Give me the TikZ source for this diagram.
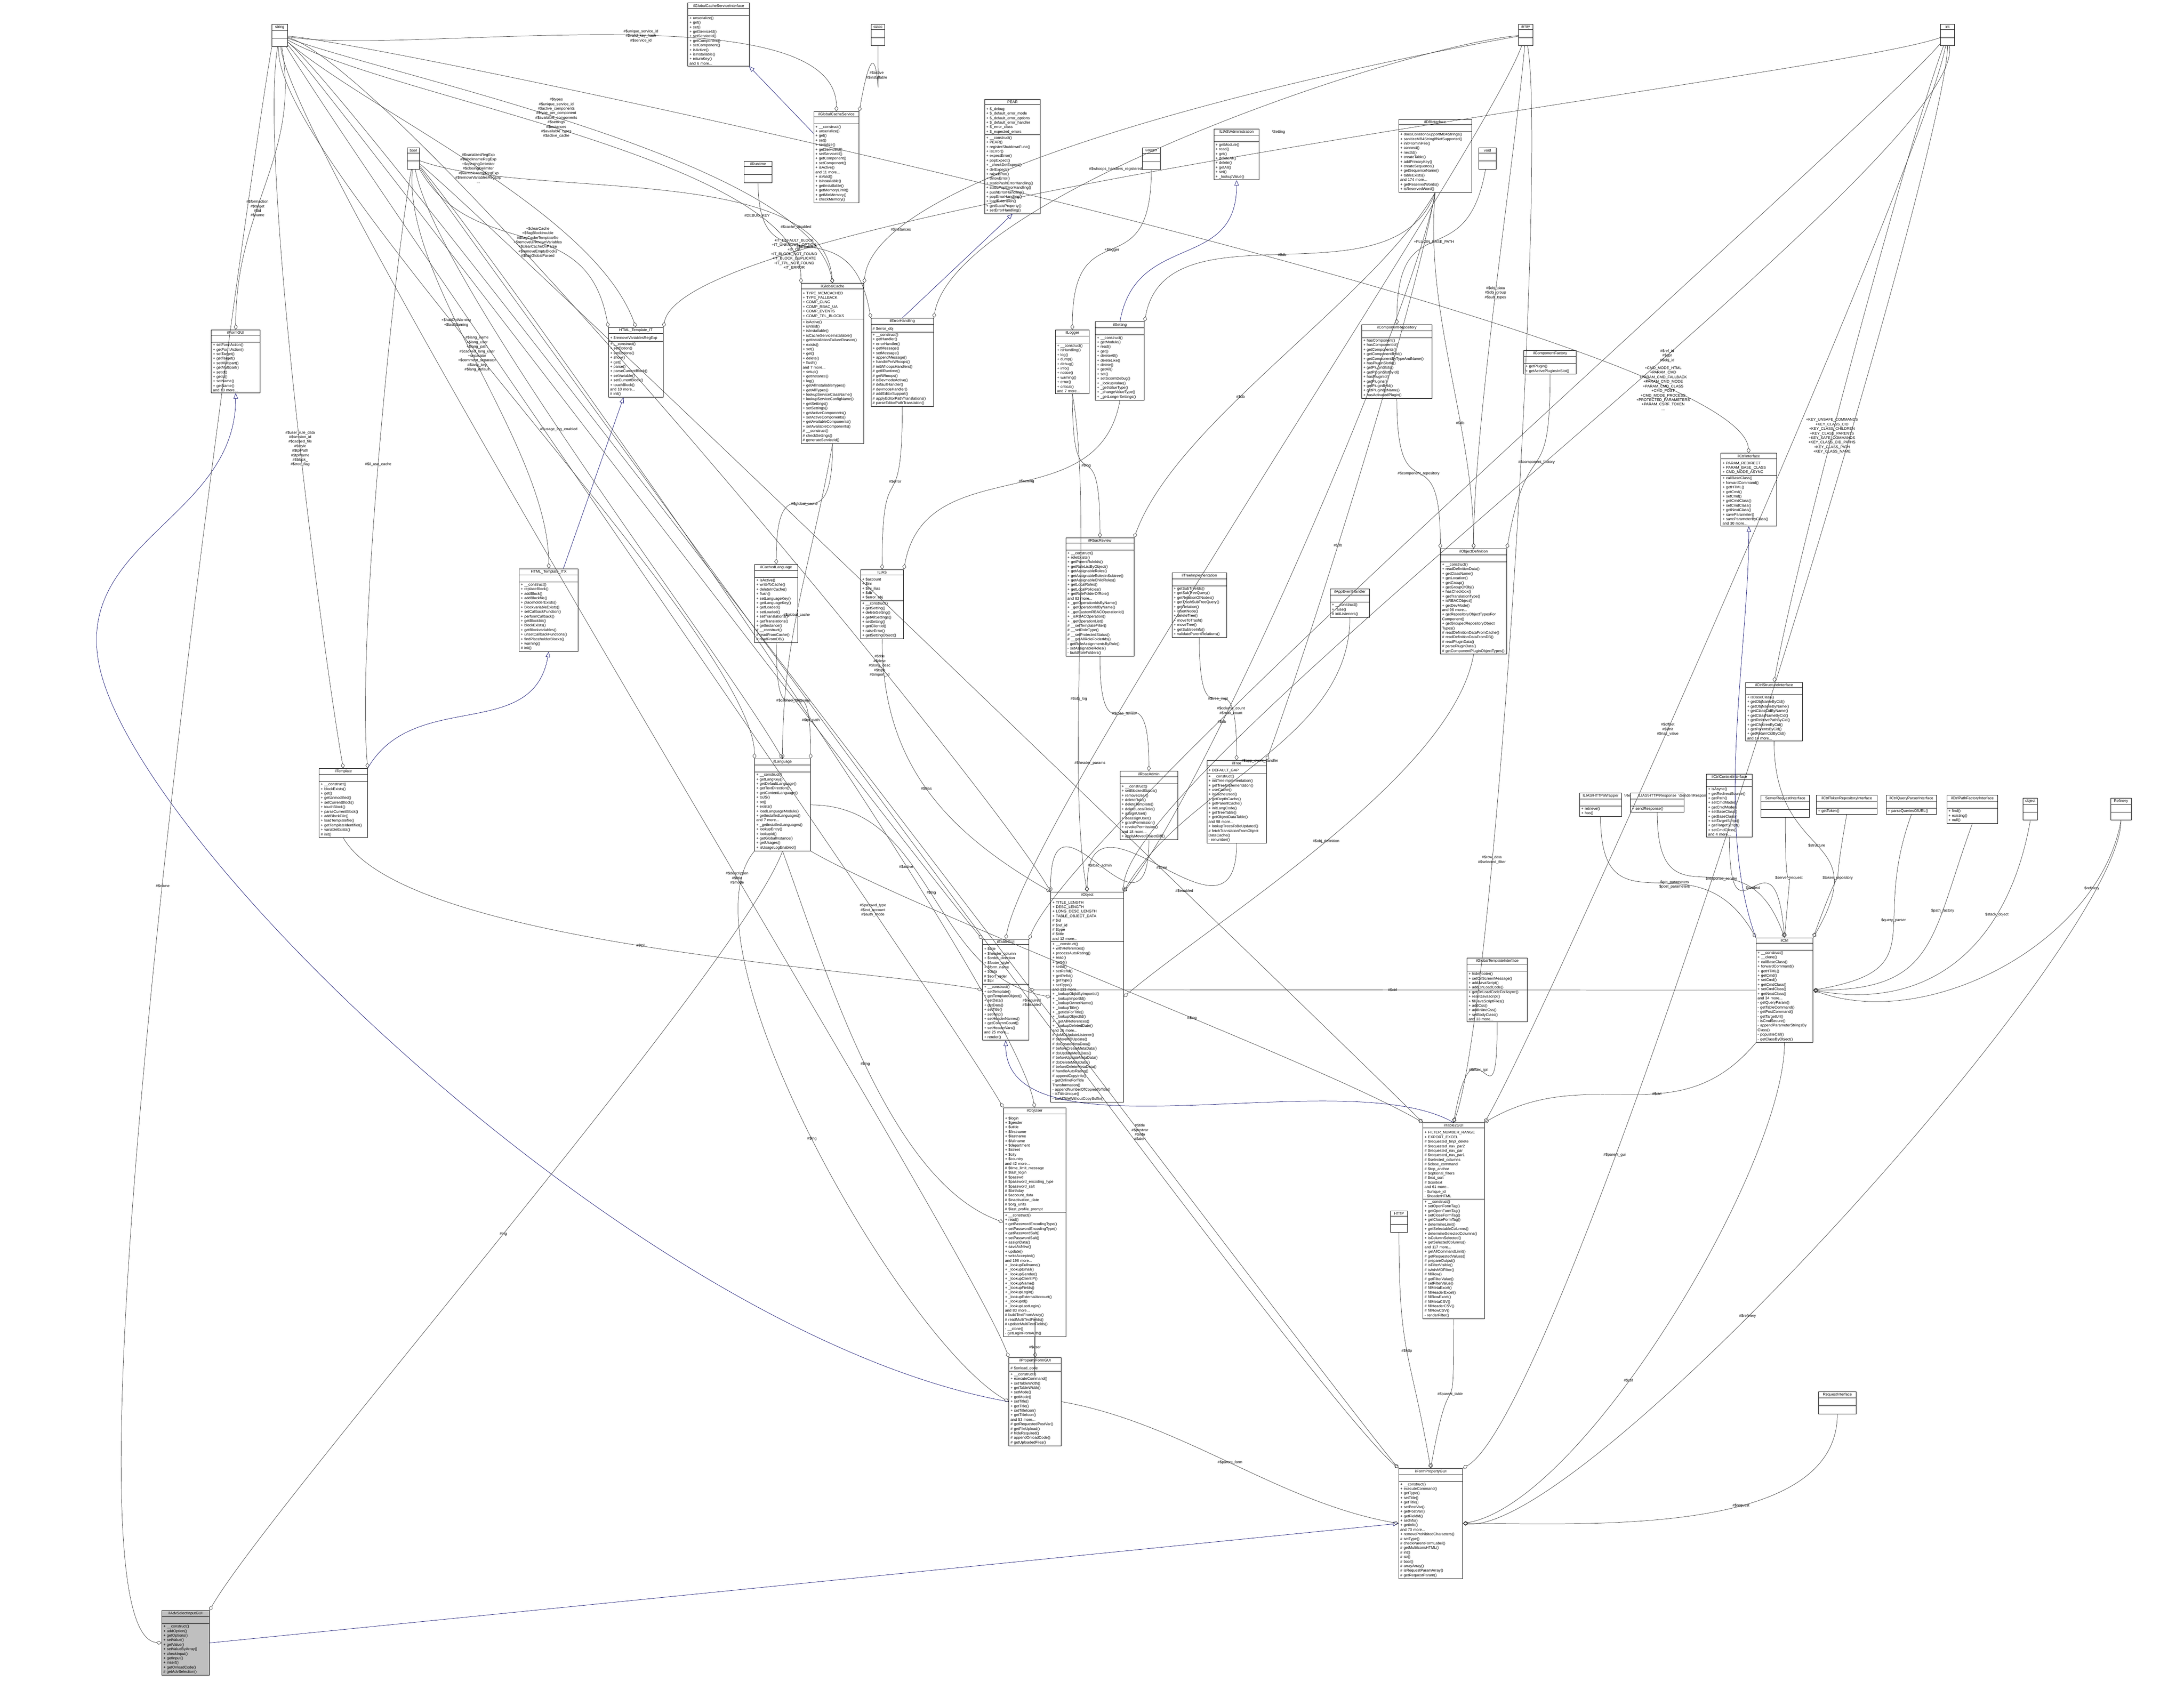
\documentclass[tikz,border=0pt]{standalone}
\usepackage{fontspec}
\setmainfont{Liberation Sans}
\usetikzlibrary{shapes.multipart, arrows.meta}

% one class box of the collaboration graph
\newcommand{\classbox}[6][]{%
  \node[classbox, #1, text width=\dimexpr#3cm-3pt\relax] (#2) at (#4)
    {#5\nodepart{second}\rule{0pt}{4pt}#6};}
\newcommand{\emptybox}[4]{%
  \node[classbox, text width=\dimexpr#2cm-3pt\relax] (#1) at (#3)
    {\centerline{#4}\nodepart{second}\rule{0pt}{5pt}\nodepart{third}\rule{0pt}{5pt}};}
% member edge: style, from, to, out angle, in angle, label pos, label
\newcommand{\link}[7]{%
  \draw[#1] (#2) .. controls +(#4:4) and +(#5:4) .. node[lbl, pos=#6]{#7} (#3);}

\tikzset{
  classbox/.style={rectangle split, rectangle split parts=3, draw, anchor=north west,
    align=left, inner xsep=1.5pt, inner ysep=1pt, line width=0.4pt, fill=white,
    font=\fontsize{3.5}{4.2}\selectfont},
  uses/.style={draw=black!80, line width=0.3pt, -{Diamond[open, length=5pt, width=3.5pt]}},
  isa/.style={draw=blue!40!black, line width=0.3pt, -{Triangle[open, length=5pt, width=4pt]}},
  lbl/.style={font=\fontsize{3.5}{4.2}\selectfont, align=center, inner sep=0.5pt}
}

\begin{document}
\begin{tikzpicture}
\useasboundingbox (0,0) rectangle (70.95,-54.64);

% plain types
\emptybox{string}{0.5}{8.83,-0.78}{string}
\emptybox{static}{0.45}{28.29,-0.78}{static}
\emptybox{array}{0.47}{49.32,-0.78}{array}
\emptybox{int}{0.46}{63.03,-0.78}{int}
\emptybox{bool}{0.4}{13.22,-4.79}{bool}
\emptybox{runtime}{0.9}{24.17,-5.23}{ilRuntime}
\emptybox{psrlogger}{0.59}{37.10,-4.79}{Logger}
\emptybox{void}{0.57}{48.03,-4.79}{void}
\emptybox{http}{0.56}{45.16,-39.34}{HTTP}
\emptybox{serverreq}{1.58}{57.20,-25.83}{ServerRequestInterface}
\emptybox{object}{0.46}{65.72,-25.92}{object}
\emptybox{refinery}{0.67}{68.56,-25.92}{Refinery}
\emptybox{reqif}{1.22}{59.07,-45.21}{RequestInterface}

\classbox{gcsi}{2.0}{22.34,-0.09}{\centerline{ilGlobalCacheServiceInterface}}{\nodepart{third}+ unserialize()\\+ get()\\+ set()\\+ getServiceId()\\+ setServiceId()\\+ getComponent()\\+ setComponent()\\+ isActive()\\+ isInstallable()\\+ returnKey()\\and 6 more...}
\classbox{gcs}{1.47}{26.43,-3.62}{\centerline{ilGlobalCacheService}}{\nodepart{third}+ \_\_construct()\\+ unserialize()\\+ get()\\+ set()\\+ serialize()\\+ getServiceId()\\+ setServiceId()\\+ getComponent()\\+ setComponent()\\+ isActive()\\and 11 more...\\+ isValid()\\+ isInstallable()\\+ getInstallable()\\+ getMemoryLimit()\\+ getMinMemory()\\+ checkMemory()}
\classbox{pear}{1.81}{31.98,-3.22}{\centerline{PEAR}}{+ \$\_debug\\+ \$\_default\_error\_mode\\+ \$\_default\_error\_options\\+ \$\_default\_error\_handler\\+ \$\_error\_class\\+ \$\_expected\_errors\nodepart{third}+ \_\_construct()\\+ PEAR()\\+ registerShutdownFunc()\\+ isError()\\+ expectError()\\+ popExpect()\\+ \_checkDelExpect()\\+ delExpect()\\+ raiseError()\\+ throwError()\\+ staticPushErrorHandling()\\+ staticPopErrorHandling()\\+ pushErrorHandling()\\+ popErrorHandling()\\+ loadExtension()\\+ getStaticProperty()\\+ setErrorHandling()}
\classbox{adminsetting}{1.47}{39.43,-4.18}{\centerline{ILIAS\textbackslash Administration}\centerline{\textbackslash Setting}}{\nodepart{third}+ getModule()\\+ read()\\+ get()\\+ deleteAll()\\+ delete()\\+ getAll()\\+ set()\\+ \_lookupValue()}
\classbox{dbi}{2.37}{45.43,-3.87}{\centerline{ilDBInterface}}{\nodepart{third}+ doesCollationSupportMB4Strings()\\+ sanitizeMB4StringIfNotSupported()\\+ initFromIniFile()\\+ connect()\\+ nextId()\\+ createTable()\\+ addPrimaryKey()\\+ createSequence()\\+ getSequenceName()\\+ tableExists()\\and 174 more...\\+ getReservedWords()\\+ isReservedWord()}

\classbox{formgui}{1.58}{6.86,-10.71}{\centerline{ilFormGUI}}{\nodepart{third}+ setFormAction()\\+ getFormAction()\\+ setTarget()\\+ getTarget()\\+ setMultipart()\\+ getMultipart()\\+ setId()\\+ getId()\\+ setName()\\+ getName()\\and 10 more...}
\classbox{htmlit}{1.78}{19.76,-10.63}{\centerline{HTML\_Template\_IT}}{+ \$removeVariablesRegExp\nodepart{third}+ \_\_construct()\\+ setOption()\\+ setOptions()\\+ show()\\+ get()\\+ parse()\\+ parseCurrentBlock()\\+ setVariable()\\+ setCurrentBlock()\\+ touchBlock()\\and 10 more...\\\# init()}
\classbox{gcache}{2.04}{26.02,-9.20}{\centerline{ilGlobalCache}}{+ TYPE\_MEMCACHED\\+ TYPE\_FALLBACK\\+ COMP\_CLNG\\+ COMP\_RBAC\_UA\\+ COMP\_EVENTS\\+ COMP\_TPL\_BLOCKS\nodepart{third}+ isActive()\\+ isValid()\\+ isInstallable()\\+ isCacheServiceInstallable()\\+ getInstallationFailureReason()\\+ exists()\\+ set()\\+ get()\\+ delete()\\+ flush()\\and 7 more...\\+ setup()\\+ getInstance()\\+ log()\\+ getAllInstallableTypes()\\+ getAllTypes()\\+ lookupServiceClassName()\\+ lookupServiceConfigName()\\+ getSettings()\\+ setSettings()\\+ getActiveComponents()\\+ setActiveComponents()\\+ getAvailableComponents()\\+ setAvailableComponents()\\\# \_\_construct()\\\# checkSettings()\\\# generateServiceId()}
\classbox{errh}{2.03}{28.29,-10.33}{\centerline{ilErrorHandling}}{\# \$error\_obj\nodepart{third}+ \_\_construct()\\+ getHandler()\\+ errorHandler()\\+ getMessage()\\+ setMessage()\\+ appendMessage()\\+ handlePreWhoops()\\\# initWhoopsHandlers()\\\# getIlRuntime()\\\# getWhoops()\\\# isDevmodeActive()\\\# defaultHandler()\\\# devmodeHandler()\\\# addEditorSupport()\\\# applyEditorPathTranslations()\\\# parseEditorPathTranslation()}
\classbox{logger}{1.10}{34.28,-10.71}{\centerline{ilLogger}}{\nodepart{third}+ \_\_construct()\\+ isHandling()\\+ log()\\+ dump()\\+ debug()\\+ info()\\+ notice()\\+ warning()\\+ error()\\+ critical()\\and 7 more...}
\classbox{setting}{1.59}{35.58,-10.45}{\centerline{ilSetting}}{\nodepart{third}+ \_\_construct()\\+ getModule()\\+ read()\\+ get()\\+ deleteAll()\\+ deleteLike()\\+ delete()\\+ getAll()\\+ set()\\+ setScormDebug()\\+ \_lookupValue()\\+ \_getValueType()\\+ \_changeValueType()\\+ \_getLongerSettings()}
\classbox{comprepo}{2.28}{44.23,-10.54}{\centerline{ilComponentRepository}}{\nodepart{third}+ hasComponent()\\+ hasComponentId()\\+ getComponents()\\+ getComponentById()\\+ getComponentByTypeAndName()\\+ hasPluginSlotId()\\+ getPluginSlots()\\+ getPluginSlotById()\\+ hasPluginId()\\+ getPlugins()\\+ getPluginById()\\+ getPluginByName()\\+ hasActivatedPlugin()}
\classbox{compfac}{1.70}{49.50,-11.38}{\centerline{ilComponentFactory}}{\nodepart{third}+ getPlugin()\\+ getActivePluginsInSlot()}
\classbox{ctrlif}{1.81}{55.90,-14.72}{\centerline{ilCtrlInterface}}{+ PARAM\_REDIRECT\\+ PARAM\_BASE\_CLASS\\+ CMD\_MODE\_ASYNC\nodepart{third}+ callBaseClass()\\+ forwardCommand()\\+ getHTML()\\+ getCmd()\\+ setCmd()\\+ getCmdClass()\\+ setCmdClass()\\+ getNextClass()\\+ saveParameter()\\+ saveParameterByClass()\\and 30 more...}

\classbox{itx}{1.92}{16.86,-18.47}{\centerline{HTML\_Template\_ITX}}{\nodepart{third}+ \_\_construct()\\+ replaceBlock()\\+ addBlock()\\+ addBlockfile()\\+ placeholderExists()\\+ BlockvariableExists()\\+ setCallbackFunction()\\+ performCallback()\\+ getBlocklist()\\+ blockExists()\\+ getBlockvariables()\\+ unsetCallbackFunctions()\\+ findPlaceholderBlocks()\\+ warning()\\\# init()}
\classbox{cachedlng}{1.40}{24.51,-18.33}{\centerline{ilCachedLanguage}}{\nodepart{third}+ isActive()\\+ writeToCache()\\+ deleteInCache()\\+ flush()\\+ setLanguageKey()\\+ getLanguageKey()\\+ getLoaded()\\+ setLoaded()\\+ setTranslations()\\+ getTranslations()\\+ getInstance()\\\# \_\_construct()\\\# readFromCache()\\\# readFromDB()}
\classbox{ilias}{1.40}{27.95,-18.50}{\centerline{ILIAS}}{+ \$account\\+ \$ini\\+ \$ini\_ilias\\+ \$db\\+ \$error\_obj\nodepart{third}+ \_\_construct()\\+ getSetting()\\+ deleteSetting()\\+ getAllSettings()\\+ setSetting()\\+ getClientId()\\+ raiseError()\\+ getSettingObject()}
\classbox{rbacrev}{2.21}{34.62,-17.47}{\centerline{ilRbacReview}}{\nodepart{third}+ \_\_construct()\\+ roleExists()\\+ getParentRoleIds()\\+ getRoleListByObject()\\+ getAssignableRoles()\\+ getAssignableRolesInSubtree()\\+ getAssignableChildRoles()\\+ getLocalRoles()\\+ getLocalPolicies()\\+ getRoleFolderOfRole()\\and 82 more...\\+ \_getOperationIdsByName()\\+ \_getOperationIdByName()\\+ \_getCustomRBACOperationId()\\+ \_isRBACOperation()\\+ \_getOperationList()\\\# \_\_setTemplateFilter()\\\# \_\_setRoleType()\\\# \_\_setProtectedStatus()\\\# \_\_getAllRoleFolderIds()\\- getRoleAssignmentsByRole()\\- setAssignableRoles()\\- buildRoleFolders()}
\classbox{treeimpl}{1.77}{38.07,-18.60}{\centerline{ilTreeImplementation}}{\nodepart{third}+ getSubTreeIds()\\+ getSubTreeQuery()\\+ getRelationOfNodes()\\+ getTrashSubTreeQuery()\\+ getRelation()\\+ insertNode()\\+ deleteTree()\\+ moveToTrash()\\+ moveTree()\\+ getSubtreeInfo()\\+ validateParentRelations()}
\classbox{aeh}{1.27}{43.21,-19.13}{\centerline{ilAppEventHandler}}{\nodepart{third}+ \_\_construct()\\+ raise()\\\# initListeners()}
\classbox{objdef}{2.15}{46.79,-17.82}{\centerline{ilObjectDefinition}}{\nodepart{third}+ \_\_construct()\\+ readDefinitionData()\\+ getClassName()\\+ getLocation()\\+ getGroup()\\+ getGroupOfObj()\\+ hasCheckbox()\\+ getTranslationType()\\+ isRBACObject()\\+ getDevMode()\\and 96 more...\\+ getRepositoryObjectTypesFor\\Component()\\+ getGroupedRepositoryObject\\Types()\\\# readDefinitionDataFromCache()\\\# readDefinitionDataFromDB()\\\# readPluginData()\\\# parsePluginData()\\\# getComponentPluginObjectTypes()}
\classbox{structif}{1.85}{56.70,-22.16}{\centerline{ilCtrlStructureInterface}}{\nodepart{third}+ isBaseClass()\\+ getObjNameByCid()\\+ getObjNameByName()\\+ getClassCidByName()\\+ getClassNameByCid()\\+ getRelativePathByCid()\\+ getChildrenByCid()\\+ getParentsByCid()\\+ getReturnCidByCid()\\and 14 more...}

\classbox{tmpl}{1.57}{10.36,-24.96}{\centerline{ilTemplate}}{\nodepart{third}+ \_\_construct()\\+ blockExists()\\+ get()\\+ getUnmodified()\\+ setCurrentBlock()\\+ touchBlock()\\+ parseCurrentBlock()\\+ addBlockFile()\\+ loadTemplatefile()\\+ getTemplateIdentifier()\\+ variableExists()\\\# init()}
\classbox{lng}{1.81}{24.51,-24.65}{\centerline{ilLanguage}}{\nodepart{third}+ \_\_construct()\\+ getLangKey()\\+ getDefaultLanguage()\\+ getTextDirection()\\+ getContentLanguage()\\+ toJS()\\+ txt()\\+ exists()\\+ loadLanguageModule()\\+ getInstalledLanguages()\\and 7 more...\\+ \_getInstalledLanguages()\\+ lookupEntry()\\+ lookupId()\\+ getGlobalInstance()\\+ getUsages()\\+ isUsageLogEnabled()}
\classbox{rbacadmin}{1.87}{36.38,-25.05}{\centerline{ilRbacAdmin}}{\nodepart{third}+ \_\_construct()\\+ setBlockedStatus()\\+ removeUser()\\+ deleteRole()\\+ deleteTemplate()\\+ deleteLocalRole()\\+ assignUser()\\+ deassignUser()\\+ grantPermission()\\+ revokePermission()\\and 18 more...\\+ applyMovedObjectDiff()}
\classbox{tree}{1.93}{39.20,-24.70}{\centerline{ilTree}}{+ DEFAULT\_GAP\nodepart{third}+ \_\_construct()\\+ initTreeImplementation()\\+ getTreeImplementation()\\+ useCache()\\+ isCacheUsed()\\+ getDepthCache()\\+ getParentCache()\\+ initLangCode()\\+ getTreeTable()\\+ getObjectDataTable()\\and 98 more...\\+ lookupTreesToBeUpdated()\\\# fetchTranslationFromObject\\DataCache()\\- renumber()}
\classbox{httpwrap}{1.36}{51.31,-25.75}{\centerline{ILIAS\textbackslash HTTP\textbackslash Wrapper}\centerline{\textbackslash RequestWrapper}}{\nodepart{third}+ retrieve()\\+ has()}
\classbox{sender}{1.74}{52.96,-25.75}{\centerline{ILIAS\textbackslash HTTP\textbackslash Response}\centerline{\textbackslash Sender\textbackslash ResponseSenderStrategy}}{\nodepart{third}+ sendResponse()}
\classbox{ctxif}{1.49}{55.43,-25.14}{\centerline{ilCtrlContextInterface}}{\nodepart{third}+ isAsync()\\+ getRedirectSource()\\+ getPath()\\+ setCmdMode()\\+ getCmdMode()\\+ setBaseClass()\\+ getBaseClass()\\+ setTargetScript()\\+ getTargetScript()\\+ setCmdClass()\\and 4 more...}
\classbox{tokenrepo}{1.97}{59.00,-25.83}{\centerline{ilCtrlTokenRepositoryInterface}}{\nodepart{third}+ getToken()}
\classbox{queryparser}{1.63}{61.27,-25.83}{\centerline{ilCtrlQueryParserInterface}}{\nodepart{third}+ parseQueriesOfURL()}
\classbox{pathfac}{1.65}{63.24,-25.83}{\centerline{ilCtrlPathFactoryInterface}}{\nodepart{third}+ find()\\+ existing()\\+ null()}

\classbox{obj}{2.36}{34.13,-28.97}{\centerline{ilObject}}{+ TITLE\_LENGTH\\+ DESC\_LENGTH\\+ LONG\_DESC\_LENGTH\\+ TABLE\_OBJECT\_DATA\\\# \$id\\\# \$ref\_id\\\# \$type\\\# \$title\\and 12 more...\nodepart{third}+ \_\_construct()\\+ withReferences()\\+ processAutoRating()\\+ read()\\+ getId()\\+ setId()\\+ setRefId()\\+ getRefId()\\+ getType()\\+ setType()\\and 133 more...\\+ \_lookupObjIdByImportId()\\+ \_lookupImportId()\\+ \_lookupOwnerName()\\+ \_lookupTitle()\\+ \_getIdsForTitle()\\+ \_lookupObjectId()\\+ \_getAllReferences()\\+ \_lookupDeletedDate()\\and 25 more...\\\# doMDUpdateListener()\\\# beforeMDUpdate()\\\# doCreateMetaData()\\\# beforeCreateMetaData()\\\# doUpdateMetaData()\\\# beforeUpdateMetaData()\\\# doDeleteMetaData()\\\# beforeDeleteMetaData()\\\# handleAutoRating()\\\# appendCopyInfo()\\- getOnlineForTitle\\Transformation()\\- appendNumberOfCopiesToTitle()\\- isTitleUnique()\\- buildTitleWithoutCopySuffix()}
\classbox{tablegui}{1.51}{31.91,-30.51}{\centerline{ilTableGUI}}{+ \$title\\+ \$header\_column\\+ \$order\_direction\\+ \$footer\_style\\+ \$form\_name\\+ \$data\\\# \$sort\_order\\\# \$tpl\nodepart{third}+ \_\_construct()\\+ setTemplate()\\+ getTemplateObject()\\+ setData()\\+ getData()\\+ setTitle()\\+ setHelp()\\+ setHeaderNames()\\+ getColumnCount()\\+ setHeaderVars()\\and 25 more...\\+ render()}
\classbox{ctrl}{1.85}{57.04,-30.46}{\centerline{ilCtrl}}{\nodepart{third}+ \_\_construct()\\+ \_\_clone()\\+ callBaseClass()\\+ forwardCommand()\\+ getHTML()\\+ getCmd()\\+ setCmd()\\+ getCmdClass()\\+ setCmdClass()\\+ getNextClass()\\and 34 more...\\- getQueryParam()\\- getTableCommand()\\- getPostCommand()\\- getTargetUrl()\\- isCmdSecure()\\- appendParameterStringsBy\\Class()\\- populateCall()\\- getClassByObject()}
\classbox{gti}{1.96}{47.65,-31.12}{\centerline{ilGlobalTemplateInterface}}{\nodepart{third}+ hideFooter()\\+ setOnScreenMessage()\\+ addJavaScript()\\+ addOnLoadCode()\\+ getOnLoadCodeForAsync()\\+ resetJavascript()\\+ fillJavaScriptFiles()\\+ addCss()\\+ addInlineCss()\\+ setBodyClass()\\and 33 more...}
\classbox{objuser}{2.03}{32.59,-35.98}{\centerline{ilObjUser}}{+ \$login\\+ \$gender\\+ \$utitle\\+ \$firstname\\+ \$lastname\\+ \$fullname\\+ \$department\\+ \$street\\+ \$city\\+ \$country\\and 42 more...\\\# \$time\_limit\_message\\\# \$last\_login\\\# \$passwd\\\# \$password\_encoding\_type\\\# \$password\_salt\\\# \$birthday\\\# \$account\_data\\\# \$inactivation\_date\\\# \$org\_units\\\# \$last\_profile\_prompt\nodepart{third}+ \_\_construct()\\+ read()\\+ getPasswordEncodingType()\\+ setPasswordEncodingType()\\+ getPasswordSalt()\\+ setPasswordSalt()\\+ assignData()\\+ saveAsNew()\\+ update()\\+ writeAccepted()\\and 198 more...\\+ \_lookupFullname()\\+ \_lookupEmail()\\+ \_lookupGender()\\+ \_lookupClientIP()\\+ \_lookupName()\\+ \_lookupFields()\\+ \_lookupLogin()\\+ \_lookupExternalAccount()\\+ \_lookupId()\\+ \_lookupLastLogin()\\and 83 more...\\\# buildTextFromArray()\\\# readMultiTextFields()\\\# updateMultiTextFields()\\- \_\_clone()\\- getLoginFromAuth()}
\classbox{table2}{1.99}{46.22,-36.47}{\centerline{ilTable2GUI}}{+ FILTER\_NUMBER\_RANGE\\+ EXPORT\_EXCEL\\\# \$requested\_tmpl\_delete\\\# \$requested\_nav\_par2\\\# \$requested\_nav\_par\\\# \$requested\_nav\_par1\\\# \$selected\_columns\\\# \$close\_command\\\# \$top\_anchor\\\# \$optional\_filters\\\# \$ext\_sort\\\# \$context\\and 61 more...\\- \$unique\_id\\- \$headerHTML\nodepart{third}+ \_\_construct()\\+ setOpenFormTag()\\+ getOpenFormTag()\\+ setCloseFormTag()\\+ getCloseFormTag()\\+ determineLimit()\\+ getSelectableColumns()\\+ determineSelectedColumns()\\+ isColumnSelected()\\+ getSelectedColumns()\\and 117 more...\\+ getAllCommandLimit()\\\# getRequestedValues()\\\# prepareOutput()\\\# isFilterVisible()\\\# isAdvMDFilter()\\\# fillRow()\\\# getFilterValue()\\\# setFilterValue()\\\# fillMetaExcel()\\\# fillHeaderExcel()\\\# fillRowExcel()\\\# fillMetaCSV()\\\# fillHeaderCSV()\\\# fillRowCSV()\\- renderFilter()}
\classbox{pfgui}{1.70}{32.77,-44.10}{\centerline{ilPropertyFormGUI}}{\# \$onload\_code\nodepart{third}+ \_\_construct()\\+ executeCommand()\\+ setTableWidth()\\+ getTableWidth()\\+ setMode()\\+ getMode()\\+ setTitle()\\+ getTitle()\\+ setTitleIcon()\\+ getTitleIcon()\\and 53 more...\\\# getRequestedPostVar()\\\# getFileUpload()\\\# hideRequired()\\\# appendOnloadCode()\\\# getUploadedFiles()}
\classbox{fpgui}{2.08}{45.43,-47.70}{\centerline{ilFormPropertyGUI}}{\nodepart{third}+ \_\_construct()\\+ executeCommand()\\+ getType()\\+ setTitle()\\+ getTitle()\\+ setPostVar()\\+ getPostVar()\\+ getFieldId()\\+ setInfo()\\+ getInfo()\\and 70 more...\\+ removeProhibitedCharacters()\\\# setType()\\\# checkParentFormLabel()\\\# getMultiIconsHTML()\\\# int()\\\# str()\\\# bool()\\\# arrayArray()\\\# isRequestParamArray()\\\# getRequestParam()}
\classbox[fill=black!25]{adv}{1.54}{5.25,-52.32}{\centerline{ilAdvSelectInputGUI}}{\nodepart{third}+ \_\_construct()\\+ addOption()\\+ getOptions()\\+ setValue()\\+ getValue()\\+ setValueByArray()\\+ checkInput()\\+ getInput()\\+ insert()\\+ getOnloadCode()\\\# getAdvSelection()}

\begin{scope}[on background layer/.style={}]
% inheritance
\draw[isa] (gcs) -- (gcsi);
\draw[isa] (errh.north) -- (pear.south);
\draw[isa] (itx) -- (htmlit);
\draw[isa] (tmpl.north east) .. controls +(60:3) and +(-100:3) .. (itx.south);
\draw[isa] (setting.north) .. controls +(80:3) and +(-90:3) .. (adminsetting.south);
\draw[isa] (ctrl.north west) .. controls +(110:4) and +(-90:4) .. (ctrlif.south);
\draw[isa] (table2.north) .. controls +(150:4) and +(-90:4) .. (tablegui.south);
\draw[isa] (pfgui.west) .. controls +(170:12) and +(-80:6) .. (3.2,-21.5) .. controls +(100:4) and +(-90:4) .. (formgui.south);
\draw[isa] (adv.east) -- (fpgui.west);

% members
\link{uses}{string}{formgui.north}{-80}{90}{0.6}{\#\$formaction\\\#\$target\\\#\$id\\\#\$name}
\link{uses}{string}{gcs.north}{-10}{90}{0.55}{\#\$unique\_service\_id\\\#\$valid\_key\_hash\\\#\$service\_id}
\link{uses}{static}{gcs.north east}{-90}{80}{0.5}{\#\$active\\\#\$installable}
\link{uses}{string}{gcache.north}{-20}{100}{0.45}{\#\$types\\\#\$unique\_service\_id\\\#\$active\_components\\\#\$type\_per\_component\\\#\$available\_components\\\#\$settings\\\#\$instances\\\#\$available\_types\\\#\$active\_cache}
\link{uses}{string}{htmlit.north}{-40}{110}{0.5}{\#\$variablesRegExp\\\#\$blocknameRegExp\\+\$openingDelimiter\\\#\$closingDelimiter\\+\$variablenameRegExp\\\#\$removeVariablesRegExp\\...}
\link{uses}{bool}{htmlit.north west}{-60}{100}{0.55}{+\$clearCache\\+\$flagBlocktrouble\\\#\$flagCacheTemplatefile\\+\$removeUnknownVariables\\+\$clearCacheOnParse\\+\$removeEmptyBlocks\\\#\$flagGlobalParsed}
\link{uses}{int}{htmlit.north east}{-160}{80}{0.8}{+IT\_DEFAULT\_BLOCK\\+IT\_UNKNOWN\_OPTION\\+IT\_OK\\+IT\_BLOCK\_NOT\_FOUND\\+IT\_BLOCK\_DUPLICATE\\+IT\_TPL\_NOT\_FOUND\\+IT\_ERROR}
\link{uses}{string}{gcache.north west}{-30}{90}{0.8}{\#DEBUG\_KEY}
\link{uses}{bool}{gcache.north}{-20}{95}{0.8}{\#\$cache\_disabled}
\link{uses}{array}{gcache.north east}{-170}{85}{0.85}{\#\$instances}
\link{uses}{array}{errh.north east}{-175}{80}{0.6}{\#\$whoops\_handlers\_registered}
\link{uses}{runtime}{errh.north west}{-90}{100}{0.5}{\#\$ilRuntime}
\link{uses}{bool}{itx.north}{-95}{90}{0.4}{+\$haltOnWarning\\+\$lastWarning}
\link{uses}{string}{lng.north west}{-95}{90}{0.45}{\#\$lang\_name\\+\$lang\_user\\+\$lang\_path\\\#\$cached\_lang\_user\\+separator\\+\$comment\_separator\\\#\$lang\_key\\\#\$lang\_default}
\link{uses}{string}{tmpl.north}{-100}{100}{0.55}{\#\$user\_rule\_data\\\#\$session\_id\\\#\$cached\_file\\\#\$style\\\#\$tplPath\\\#\$tplName\\\#\$block\_\\\#\$tree\_flag}
\link{uses}{bool}{tmpl.north east}{-100}{95}{0.5}{\#\$il\_use\_cache}
\link{uses}{bool}{lng.north}{-80}{120}{0.45}{\#\$usage\_log\_enabled}
\link{uses}{gcache.south}{cachedlng.north}{-90}{90}{0.5}{\#\$global\_cache}
\link{uses}{gcache.south}{lng.north}{-100}{90}{0.55}{\#\$global\_cache}
\link{uses}{errh.south}{ilias.north}{-90}{90}{0.4}{\#\$error}
\link{uses}{setting.south}{ilias.north east}{-100}{80}{0.45}{\#\$setting}
\link{uses}{logger.south}{rbacrev.north}{-90}{90}{0.5}{\#\$log}
\link{uses}{cachedlng.south}{lng.north east}{-90}{90}{0.5}{\#\$cached\_language}
\link{uses}{dbi.south}{setting.north east}{-110}{80}{0.5}{\#\$db}
\link{uses}{dbi.south}{rbacrev.north east}{-120}{70}{0.6}{\#\$db}
\link{uses}{dbi.south}{objdef.north}{-95}{90}{0.65}{\#\$db}
\link{uses}{psrlogger.south}{logger.north}{-90}{90}{0.5}{+\$logger}
\link{uses}{void}{comprepo.north}{-100}{90}{0.5}{+PLUGIN\_BASE\_PATH}
\link{uses}{comprepo.south}{objdef.north west}{-90}{90}{0.5}{\#\$component\_repository}
\link{uses}{compfac.south}{objdef.north east}{-90}{80}{0.5}{\#\$component\_factory}
\link{uses}{array}{objdef.north}{-95}{90}{0.5}{\#\$obj\_data\\\#\$obj\_group\\\#\$sub\_types}
\link{uses}{string}{ctrlif.north}{-5}{95}{0.85}{+CMD\_MODE\_HTML\\+PARAM\_CMD\\+PARAM\_CMD\_FALLBACK\\+PARAM\_CMD\_MODE\\+PARAM\_CMD\_CLASS\\+CMD\_POST\\+CMD\_MODE\_PROCESS\\+PROTECTED\_PARAMETERS\\+PARAM\_CSRF\_TOKEN\\...}
\link{uses}{int}{structif.north}{-110}{80}{0.6}{+KEY\_UNSAFE\_COMMANDS\\+KEY\_CLASS\_CID\\+KEY\_CLASS\_CHILDREN\\+KEY\_CLASS\_PARENTS\\+KEY\_SAFE\_COMMANDS\\+KEY\_CLASS\_CID\_PATHS\\+KEY\_CLASS\_PATH\\+KEY\_CLASS\_NAME}
\link{uses}{int}{obj.north east}{-80}{90}{0.4}{\#\$ref\_id\\\#\$gpr\\\#\$obj\_id}
\link{uses}{treeimpl.south}{tree.north}{-90}{90}{0.5}{\#\$tree\_impl}
\link{uses}{rbacrev.south}{rbacadmin.north}{-90}{90}{0.5}{\#\$rbac\_review}
\link{uses}{rbacadmin.south}{obj.north west}{-90}{90}{0.5}{\#\$rbac\_admin}
\link{uses}{tree.south}{obj.north}{-90}{90}{0.5}{\#\$tree}
\link{uses}{aeh.south}{obj.north east}{-90}{60}{0.5}{\#\$app\_event\_handler}
\link{uses}{objdef.south}{obj.east}{-100}{40}{0.5}{\#\$obj\_definition}
\link{uses}{ilias.south}{obj.north west}{-90}{150}{0.5}{\#\$ilias}
\link{uses}{lng.east}{obj.west}{0}{170}{0.5}{\#\$lng}
\link{uses}{structif.south}{ctrl.north east}{-90}{60}{0.5}{\$structure}
\link{uses}{httpwrap.south}{ctrl.north west}{-90}{120}{0.6}{\$get\_parameters\\\$post\_parameters}
\link{uses}{sender.south}{ctrl.north}{-90}{110}{0.6}{\$response\_sender}
\link{uses}{ctxif.south}{ctrl.north}{-90}{95}{0.5}{\$context}
\link{uses}{serverreq.south}{ctrl.north}{-90}{85}{0.5}{\$server\_request}
\link{uses}{tokenrepo.south}{ctrl.north east}{-100}{70}{0.5}{\$token\_repository}
\link{uses}{queryparser.south}{ctrl.east}{-110}{10}{0.4}{\$query\_parser}
\link{uses}{pathfac.south}{ctrl.east}{-110}{0}{0.3}{\$path\_factory}
\link{uses}{object.south}{ctrl.east}{-100}{-10}{0.3}{\$stack\_object}
\link{uses}{refinery.south}{ctrl.east}{-100}{-20}{0.2}{\$refinery}
\link{uses}{ctrl.south west}{table2.north east}{-130}{30}{0.4}{\#\$ctrl}
\link{uses}{gti.south}{table2.north}{-90}{80}{0.6}{\#\$main\_tpl}
\link{uses}{lng.south east}{table2.north west}{-30}{150}{0.6}{\#\$lng}
\link{uses}{http.south}{fpgui.north}{-90}{100}{0.5}{\#\$http}
\link{uses}{table2.south}{fpgui.north}{-90}{80}{0.5}{\#\$parent\_table}
\link{uses}{reqif.south}{fpgui.east}{-90}{0}{0.4}{\#\$request}
\link{uses}{pfgui.east}{fpgui.west}{-10}{170}{0.5}{\#\$parent\_form}
\link{uses}{ctrl.south}{fpgui.east}{-90}{10}{0.6}{\#\$ctrl}
\link{uses}{refinery.south}{fpgui.east}{-90}{-5}{0.6}{\#\$refinery}
\link{uses}{objuser.south}{pfgui.north}{-90}{90}{0.5}{\#\$user}
\link{uses}{lng.south}{adv.north east}{-110}{60}{0.5}{\#lng}
\link{uses}{string.south west}{adv.west}{-100}{175}{0.5}{\#\$name}
\link{uses}{lng.south west}{pfgui.west}{-130}{150}{0.5}{\#\$lng}
\link{uses}{ctrl.west}{tablegui.east}{180}{0}{0.5}{\#\$ctrl}
\link{uses}{tmpl.south}{tablegui.west}{-60}{170}{0.5}{\#\$tpl}
\link{uses}{lng.south}{objuser.west}{-70}{160}{0.5}{\#\$lng}
\link{uses}{string}{obj.north west}{-15}{120}{0.7}{\#\$title\\\#\$desc\\\#\$long\_desc\\\#\$type\\\#\$import\_id}
\link{uses}{string}{objuser.north west}{-60}{120}{0.75}{\#\$passwd\_type\\\#\$ext\_account\\\#\$auth\_mode}
\link{uses}{string}{tablegui.north west}{-50}{130}{0.7}{\#\$tpl\_path}
\link{uses}{string}{pfgui.north west}{-85}{110}{0.6}{\#\$description\\\#\$title\\\#\$mode}
\link{uses}{string}{fpgui.north west}{-40}{130}{0.7}{\#\$title\\\#\$postvar\\\#\$info\\\#\$alert}
\link{uses}{bool}{objuser.north}{-50}{100}{0.7}{\#\$active}
\link{uses}{bool}{fpgui.north west}{-55}{140}{0.6}{\#\$required\\\#\$disabled}
\link{uses}{bool}{table2.north west}{-40}{135}{0.7}{\#\$enabled}
\link{uses}{int}{table2.north east}{-100}{60}{0.6}{\#\$offset\\\#\$limit\\\#\$nav\_value}
\link{uses}{int}{tablegui.north east}{-130}{70}{0.7}{\#\$column\_count\\\#\$max\_count}
\link{uses}{array}{table2.north}{-80}{70}{0.7}{\#\$row\_data\\\#\$selected\_filter}
\link{uses}{array}{tablegui.north}{-110}{80}{0.75}{\#\$header\_params}
\link{uses}{int}{fpgui.north east}{-90}{30}{0.7}{\#\$parent\_gui}
\link{uses}{dbi.south}{obj.north east}{-100}{50}{0.7}{\#\$db}
\link{uses}{logger.south}{obj.north}{-80}{100}{0.6}{\#\$obj\_log}
\link{uses}{dbi.south}{tree.north east}{-100}{70}{0.6}{\#\$db}
\end{scope}
\end{tikzpicture}
\end{document}
